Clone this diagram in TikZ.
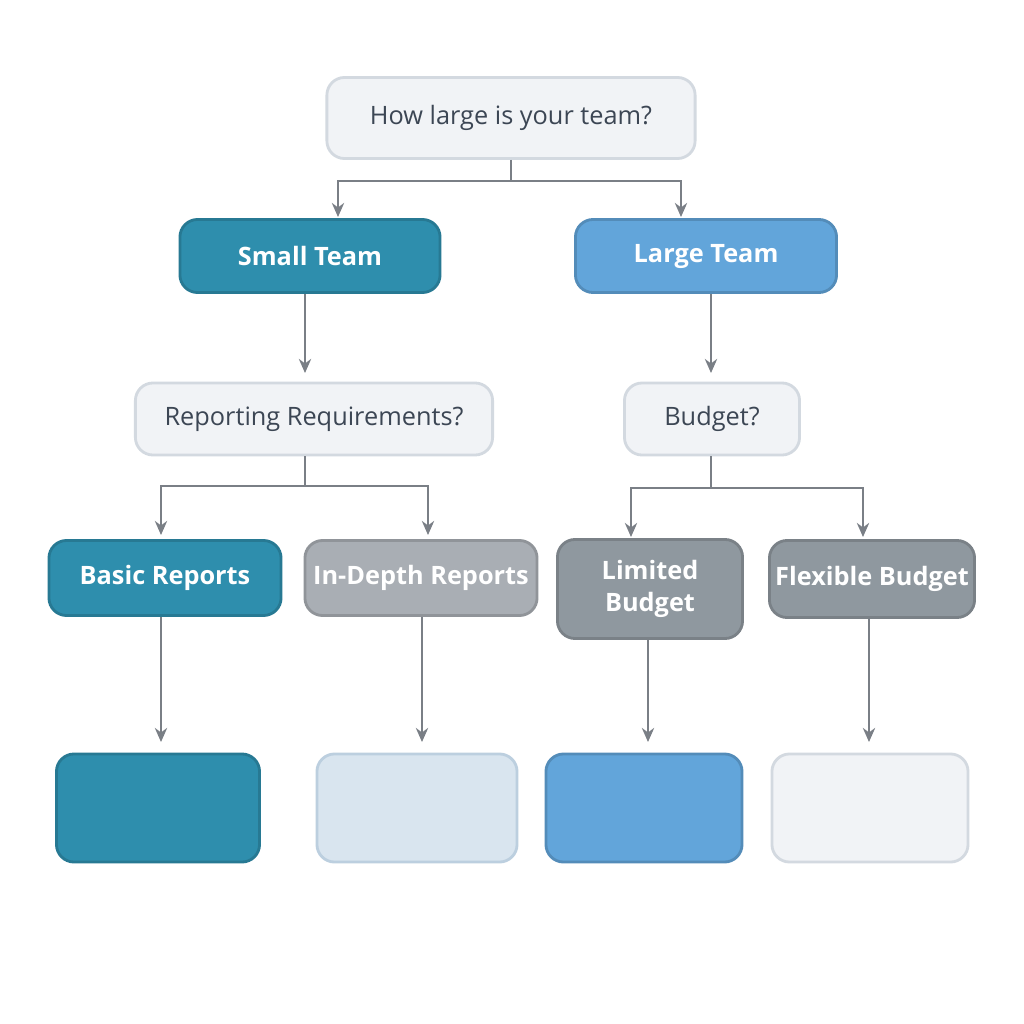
\documentclass[tikz,border=0pt]{standalone}
\usepackage{fontspec}
\setmainfont{Open Sans}
\usetikzlibrary{arrows.meta}
\definecolor{txt}{HTML}{3C4654}
\definecolor{lightf}{HTML}{F1F3F6}
\definecolor{lightd}{HTML}{D3D9E0}
\definecolor{teal}{HTML}{2E8EAD}
\definecolor{sky}{HTML}{62A5DA}
\definecolor{gray1}{HTML}{A9AEB4}
\definecolor{gray2}{HTML}{8F989F}
\definecolor{pale}{HTML}{D9E5EF}
\definecolor{line}{HTML}{7A7F86}
\tikzset{
 bx/.style={draw=#1, line width=0.8pt, rounded corners=5pt, inner sep=0pt, align=center, font=\fontsize{7.2}{9}\selectfont},
 lt/.style={bx=lightd, fill=lightf, text=txt},
 dk/.style={bx=#1!85!black, fill=#1, text=white, font=\fontsize{7.2}{9}\selectfont\bfseries},
 conn/.style={draw=line, line width=0.6pt},
 arr/.style={conn, -{Stealth[length=4pt,width=3.5pt]}}
}
\begin{document}
\begin{tikzpicture}[x=0.01cm,y=-0.01cm]
\useasboundingbox[fill=white] (0,0) rectangle (1024,1024);
\node[lt, minimum width=3.68cm, minimum height=0.81cm] (q) at (511,118) {How large is your team?};
\node[dk=teal, minimum width=2.6cm, minimum height=0.73cm] (st) at (310,256) {Small Team};
\node[dk=sky, minimum width=2.61cm, minimum height=0.73cm] (lt) at (706,256) {Large Team};
\node[lt, minimum width=3.57cm, minimum height=0.72cm] (rr) at (314,419) {Reporting Requirements?};
\node[lt, minimum width=1.75cm, minimum height=0.72cm] (bu) at (712,419) {Budget?};
\node[dk=teal, minimum width=2.32cm, minimum height=0.75cm] (br) at (165,578) {Basic Reports};
\node[dk=gray1, minimum width=2.32cm, minimum height=0.75cm] (ir) at (421,578) {In-Depth Reports};
\node[dk=gray2, minimum width=1.85cm, minimum height=0.99cm] (lb) at (650,589) {Limited\\Budget};
\node[dk=gray2, minimum width=2.05cm, minimum height=0.77cm] (fb) at (872,579) {Flexible Budget};
\node[dk=teal, minimum width=2.03cm, minimum height=1.08cm] (o1) at (158,808) {};
\node[bx=lightd!80!sky, fill=pale, minimum width=2.0cm, minimum height=1.08cm] (o2) at (417,808) {};
\node[dk=sky, minimum width=1.96cm, minimum height=1.08cm] (o3) at (644,808) {};
\node[lt, minimum width=1.96cm, minimum height=1.08cm] (o4) at (870,808) {};
\coordinate (j1) at (511,181);
\draw[conn] (q.south) -- (j1);
\draw[arr] (j1) -| (338,217);
\draw[arr] (j1) -| (681,217);
\draw[arr] (st.south -| 305,0) -- (305,373);
\draw[arr] (lt.south -| 711,0) -- (711,373);
\coordinate (j2) at (305,486);
\draw[conn] (rr.south -| j2) -- (j2);
\draw[arr] (j2) -| (161,535);
\draw[arr] (j2) -| (428,535);
\coordinate (j3) at (711,488);
\draw[conn] (bu.south -| j3) -- (j3);
\draw[arr] (j3) -| (631,537);
\draw[arr] (j3) -| (863,537);
\draw[arr] (br.south -| 161,0) -- (161,742);
\draw[arr] (ir.south -| 422,0) -- (422,742);
\draw[arr] (lb.south -| 648,0) -- (648,742);
\draw[arr] (fb.south -| 869,0) -- (869,742);
\end{tikzpicture}
\end{document}
